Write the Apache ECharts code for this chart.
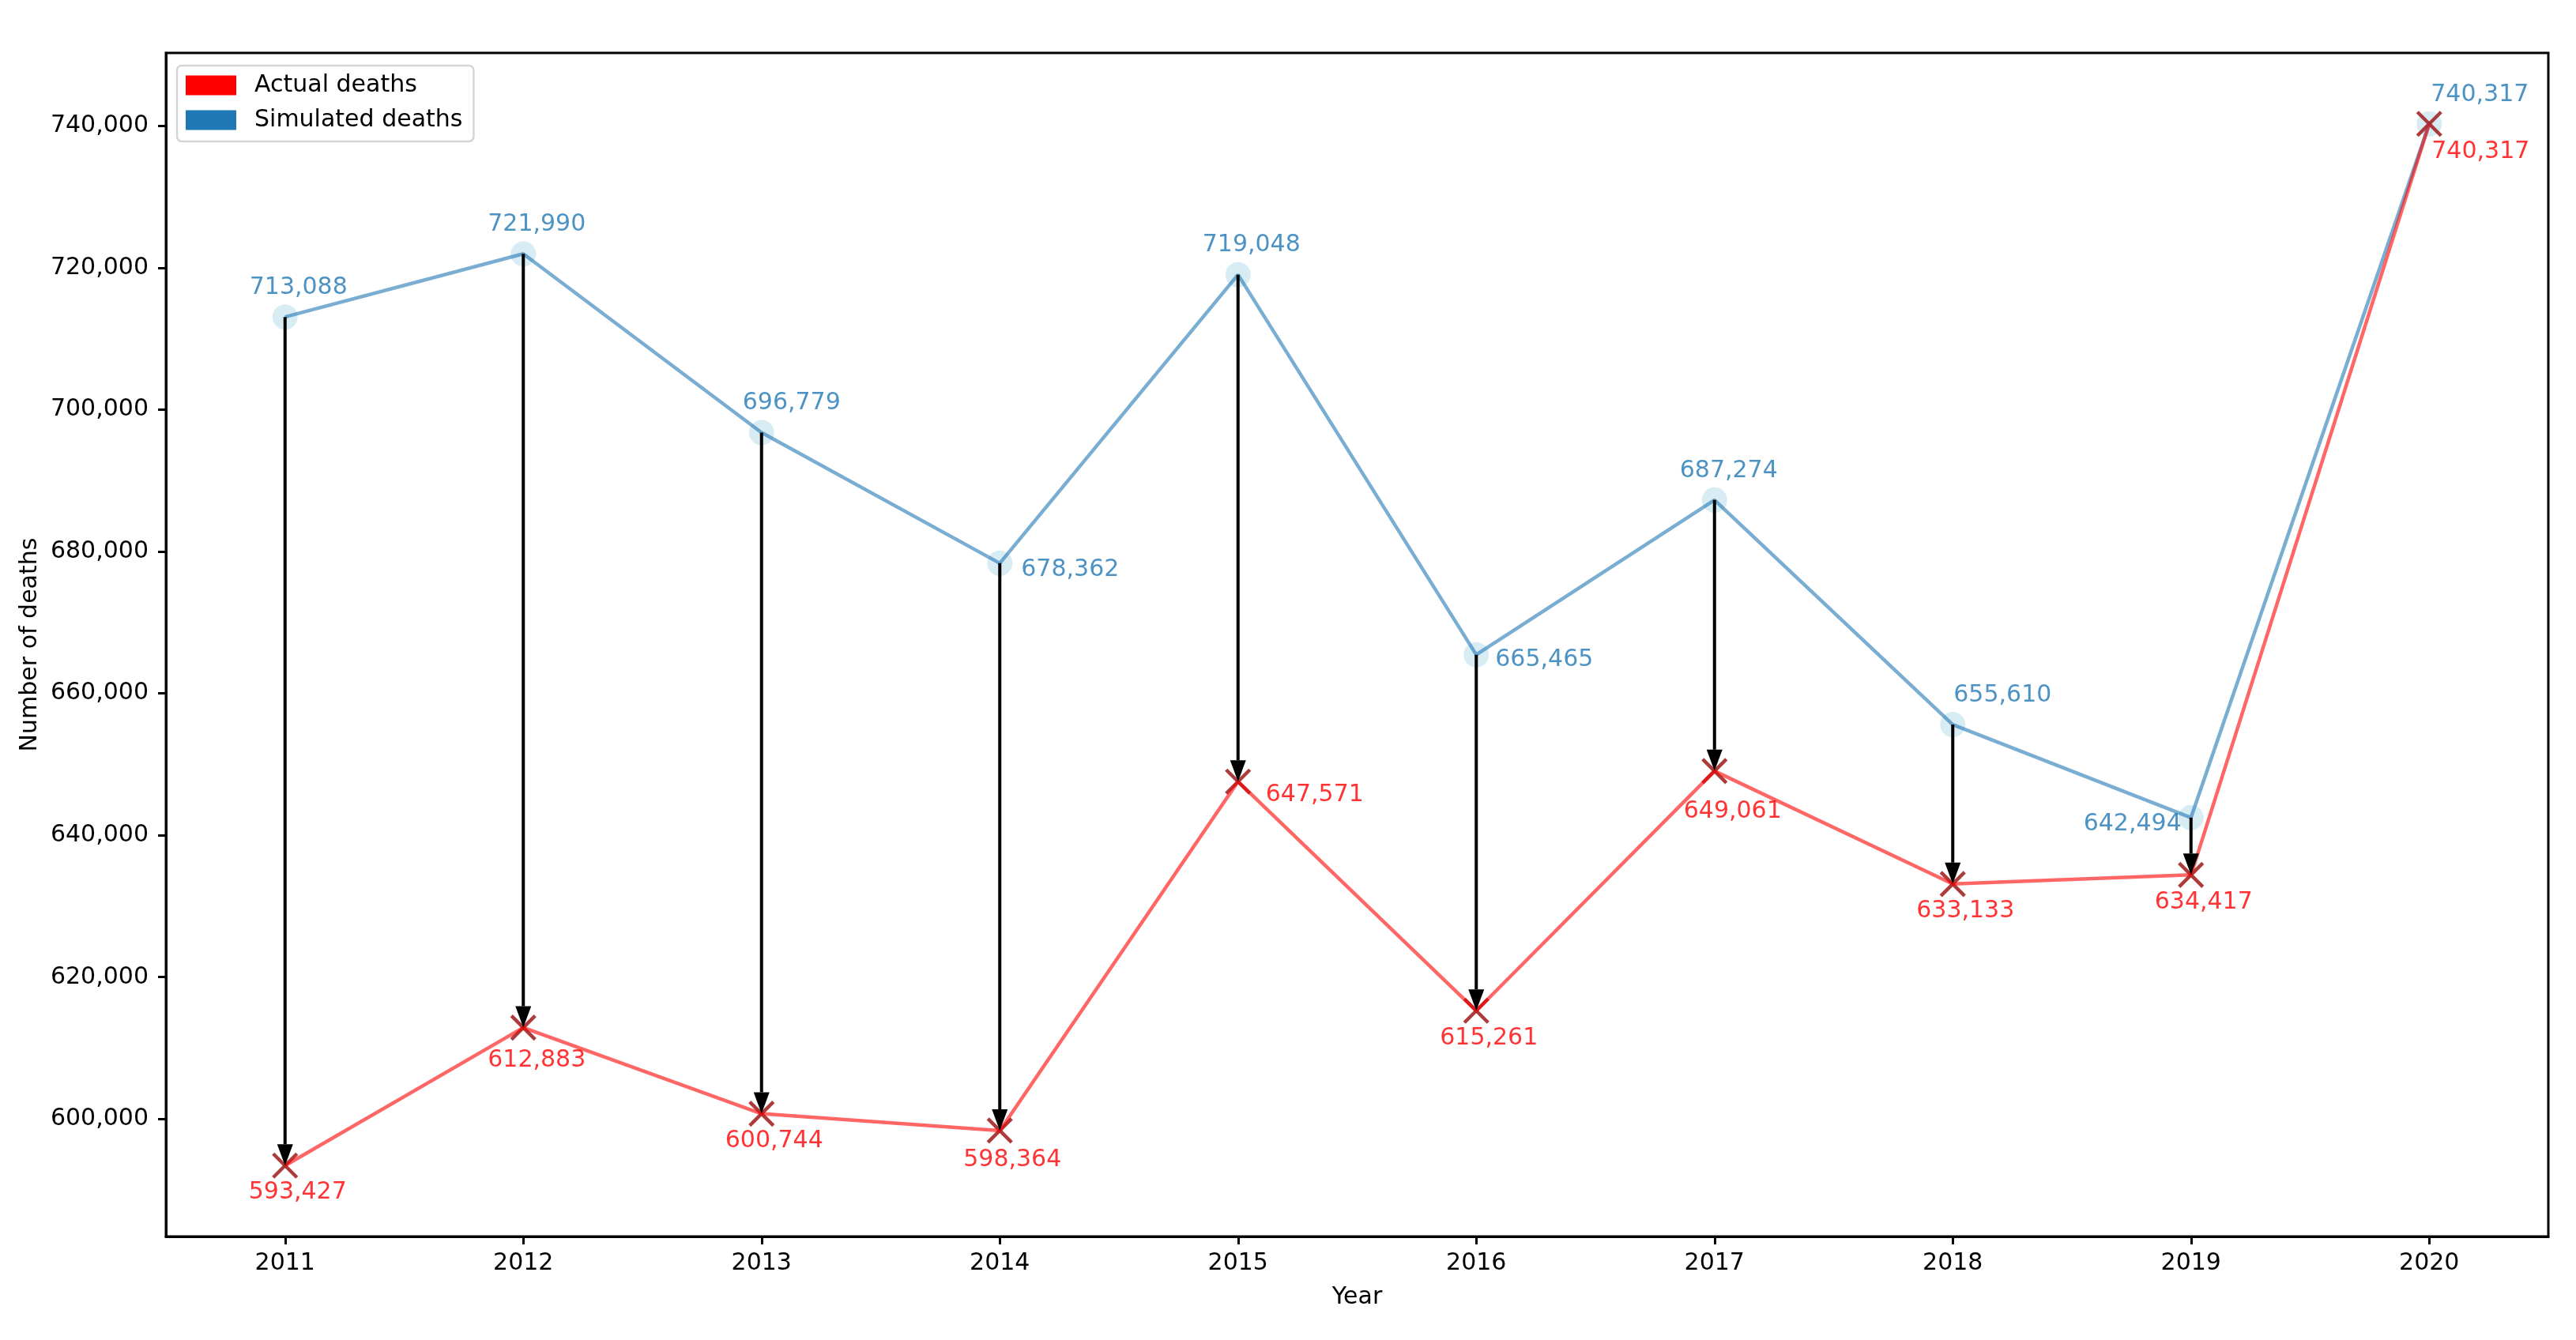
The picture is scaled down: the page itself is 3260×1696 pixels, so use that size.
<!DOCTYPE html>
<html>
<head>
<meta charset="utf-8">
<script src="https://cdn.jsdelivr.net/npm/echarts@6/dist/echarts.min.js"></script>
<style>html,body{margin:0;padding:0;background:#fff}#c{width:3260px;height:1696px}</style>
</head>
<body>
<div id="c"></div>
<script>
// ---- data ----
const years = ['2011','2012','2013','2014','2015','2016','2017','2018','2019','2020'];
const simulated = [713088, 721990, 696779, 678362, 719048, 665465, 687274, 655610, 642494, 740317];
const actual    = [593427, 612883, 600744, 598364, 647571, 615261, 649061, 633133, 634417, 740317];
const yTicks = [600000, 620000, 640000, 660000, 680000, 700000, 720000, 740000];

// ---- label placement (layout only) : [align, dx, dy] ----
const simLabelPlace = [
  ['center',17,-37],['center',17,-37],['center',38,-37],['left',27,8],['center',17,-37],
  ['left',24,7],['center',18,-37],['left',1,-37],['right',-12,8],['left',2,-37]
];
const actLabelPlace = [
  ['center',16,34],['center',17,42],['center',16,35],['center',16,37],['left',35,17],
  ['center',16,35],['center',23,51],['center',16,34],['center',16,35],['left',3,35]
];

const FONT = 'DejaVu Sans';
const fmt = v => Number(v).toLocaleString('en-US');

function labelData(values, place, color) {
  return values.map((v, i) => ({
    value: v,
    label: {
      show: true, position: 'inside', formatter: p => fmt(p.value),
      align: place[i][0], verticalAlign: 'middle',
      offset: [place[i][1], place[i][2]],
      color: color, fontSize: 30, fontFamily: FONT
    }
  }));
}

const chart = echarts.init(document.getElementById('c'), null, {renderer: 'canvas'});
chart.setOption({
  animation: false,
  backgroundColor: '#fff',
  textStyle: {fontFamily: FONT},
  grid: {left: 210, right: 35, top: 67, bottom: 131, show: true, borderColor: '#000', borderWidth: 3, containLabel: false},
  legend: {
    orient: 'vertical', left: 224, top: 83,
    padding: [10, 14, 12, 11], itemGap: 14, itemWidth: 64, itemHeight: 25,
    backgroundColor: 'rgba(255,255,255,0.8)', borderColor: '#d5d5d5', borderWidth: 2.5, borderRadius: 6,
    icon: 'rect',
    textStyle: {fontSize: 30, fontFamily: FONT, color: '#000', padding: [0, 0, 0, 18]},
    data: [
      {name: 'Actual deaths', itemStyle: {color: '#ff0000'}},
      {name: 'Simulated deaths', itemStyle: {color: '#1f77b4'}}
    ]
  },
  xAxis: {
    type: 'category', data: years, boundaryGap: true,
    name: 'Year', nameLocation: 'middle', nameGap: 62,
    nameTextStyle: {fontSize: 30, fontFamily: FONT, color: '#000'},
    axisLine: {show: true, lineStyle: {color: '#000', width: 3}},
    axisTick: {show: true, alignWithLabel: true, length: 10, lineStyle: {color: '#000', width: 3}},
    axisLabel: {fontSize: 30, fontFamily: FONT, color: '#000', margin: 19},
    splitLine: {show: false}
  },
  yAxis: {
    type: 'value',
    min: () => Math.min(...actual) - 10000,
    max: () => Math.max(...simulated) + 10000,
    name: 'Number of deaths', nameLocation: 'middle', nameGap: 155,
    nameTextStyle: {fontSize: 30, fontFamily: FONT, color: '#000'},
    axisLine: {show: true, lineStyle: {color: '#000', width: 3}},
    axisTick: {show: true, length: 10, lineStyle: {color: '#000', width: 3}, customValues: yTicks},
    axisLabel: {fontSize: 30, fontFamily: FONT, color: '#000', margin: 22, customValues: yTicks, formatter: v => fmt(v)},
    splitLine: {show: false}
  },
  series: [
    { // simulated circles
      name: '_simMarkers', type: 'scatter', data: simulated, symbol: 'circle', symbolSize: 32,
      itemStyle: {color: 'rgba(173,216,230,0.6)'}, z: 1, silent: true
    },
    { // actual x markers
      name: '_actMarkers', type: 'custom', z: 2, silent: true,
      data: actual.map((v, i) => [i, v]),
      encode: {x: 0, y: 1},
      renderItem: (params, api) => {
        const p = api.coord([api.value(0), api.value(1)]);
        const r = 15;
        const st = {stroke: 'rgba(165,42,42,0.92)', lineWidth: 4.5};
        return {
          type: 'group',
          children: [
            {type: 'line', shape: {x1: p[0] - r, y1: p[1] - r, x2: p[0] + r, y2: p[1] + r}, style: st},
            {type: 'line', shape: {x1: p[0] - r, y1: p[1] + r, x2: p[0] + r, y2: p[1] - r}, style: st}
          ]
        };
      }
    },
    {
      name: 'Simulated deaths', type: 'line', data: simulated, symbol: 'none',
      itemStyle: {color: '#1f77b4'},
      lineStyle: {color: '#1f77b4', opacity: 0.6, width: 4.5}, z: 3, silent: true
    },
    {
      name: 'Actual deaths', type: 'line', data: actual, symbol: 'none',
      itemStyle: {color: '#ff0000'},
      lineStyle: {color: '#ff0000', opacity: 0.6, width: 4.5}, z: 3, silent: true
    },
    { // arrows
      name: '_arrows', type: 'custom', z: 4, silent: true,
      data: years.map((y, i) => [i, simulated[i], actual[i]]),
      encode: {x: 0, y: [1, 2]},
      renderItem: (params, api) => {
        const i = api.value(0);
        const p0 = api.coord([i, api.value(1)]);
        const p1 = api.coord([i, api.value(2)]);
        const len = p1[1] - p0[1];
        if (Math.abs(len) < 1) return null;
        const dir = len > 0 ? 1 : -1;
        const headL = 27, headW = 20;
        return {
          type: 'group',
          children: [
            {type: 'line', shape: {x1: p0[0], y1: p0[1], x2: p1[0], y2: p1[1] - dir * headL},
             style: {stroke: '#000', lineWidth: 4}},
            {type: 'polygon', shape: {points: [[p1[0] - headW / 2, p1[1] - dir * headL], [p1[0] + headW / 2, p1[1] - dir * headL], [p1[0], p1[1]]]},
             style: {fill: '#000'}}
          ]
        };
      }
    },
    { // simulated labels
      name: '_simLabels', type: 'scatter', symbolSize: 1, itemStyle: {color: 'rgba(0,0,0,0)'},
      data: labelData(simulated, simLabelPlace, '#1f77b4'), z: 5, silent: true
    },
    { // actual labels
      name: '_actLabels', type: 'scatter', symbolSize: 1, itemStyle: {color: 'rgba(0,0,0,0)'},
      data: labelData(actual, actLabelPlace, '#ff0000'), z: 5, silent: true
    }
  ]
});
</script>
</body>
</html>
